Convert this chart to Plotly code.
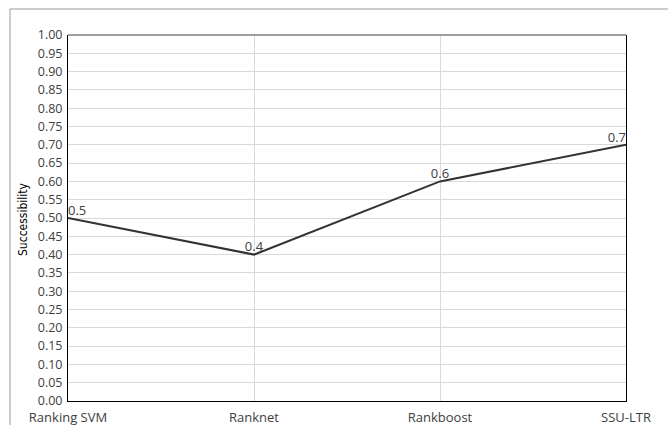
import plotly.graph_objects as go

# Ranking methods and their successibility scores
methods = ["Ranking SVM", "Ranknet", "Rankboost", "SSU-LTR"]
successibility = [0.5, 0.4, 0.6, 0.7]
y_ticks = [round(i * 0.05, 2) for i in range(21)]
y_tick_labels = [f"{v:.2f}" for v in y_ticks]
y_title = "Successibility"

W, H = 668, 425
L, R, T, B = 68, 42, 35, 24
plot_w = W - L - R
plot_h = H - T - B

def px_x(px):
    return (px - L) / plot_w

def px_y(py):
    return (H - B - py) / plot_h

text_color = "#404040"
narrow_font = "Liberation Sans Narrow, DejaVu Sans Condensed, Roboto Condensed, Arial Narrow, sans-serif"

fig = go.Figure()
fig.add_trace(go.Scatter(
    x=methods,
    y=successibility,
    mode="lines+text",
    line=dict(color="#333333", width=2),
    text=[str(v) for v in successibility],
    textposition=["top right", "top center", "top center", "top left"],
    textfont=dict(family="Open Sans", size=13, color=text_color),
    cliponaxis=False,
    showlegend=False,
    hoverinfo="x+y",
))

fig.update_layout(
    width=W, height=H,
    margin=dict(l=L, r=R, t=T, b=B),
    paper_bgcolor="white",
    plot_bgcolor="white",
    font=dict(family="Open Sans", size=13, color=text_color),
    xaxis=dict(
        type="category",
        range=[0, len(methods) - 1],
        automargin=False,
        showgrid=True, gridcolor="#d9d9d9", gridwidth=1,
        showline=True, linecolor="#000000", linewidth=1,
        ticks="", ticklabelstandoff=4,
        tickfont=dict(family="Open Sans", size=13, color=text_color),
        zeroline=False,
    ),
    yaxis=dict(
        range=[0, 1],
        automargin=False,
        tickvals=y_ticks, ticktext=y_tick_labels,
        showgrid=True, gridcolor="#d9d9d9", gridwidth=1,
        showline=True, linecolor="#000000", linewidth=1, mirror=True,
        ticks="", ticklen=0, ticklabelstandoff=2,
        tickfont=dict(family="Open Sans", size=12.5, color=text_color),
        zeroline=False,
    ),
    annotations=[
        # rotated y-axis title
        dict(text=y_title, textangle=-90, showarrow=False,
             xref="paper", yref="paper", x=px_x(23), y=px_y(219),
             xanchor="center", yanchor="middle",
             font=dict(family=narrow_font, size=12, color="#000000")),
    ],
    shapes=[
        # top edge of the plot area
        dict(type="line", xref="paper", yref="paper", x0=0, x1=1, y0=1, y1=1,
             line=dict(color="#7f7f7f", width=1.5)),
        # outer frame around the chart
        dict(type="line", xref="paper", yref="paper",
             x0=px_x(10), x1=px_x(10), y0=px_y(9), y1=px_y(H + 2),
             line=dict(color="#9a9a9a", width=1)),
        dict(type="line", xref="paper", yref="paper",
             x0=px_x(10), x1=px_x(W + 2), y0=px_y(9), y1=px_y(9),
             line=dict(color="#9a9a9a", width=1)),
    ],
)

fig.write_html("out.html")
